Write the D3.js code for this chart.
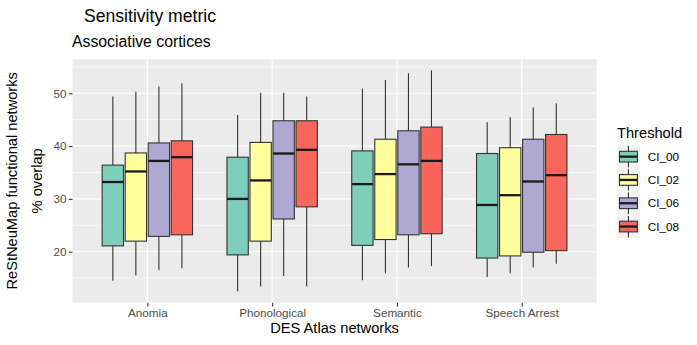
<!DOCTYPE html>
<html><head><meta charset="utf-8">
<script src="https://cdn.jsdelivr.net/npm/d3@7"></script>
<style>body{margin:0;background:#fff}</style>
</head><body>
<svg id="c" width="697" height="345"></svg>
<script>
// ---- data ----
const categories = ["Anomia", "Phonological", "Semantic", "Speech Arrest"];
const series = ["CI_00", "CI_02", "CI_06", "CI_08"];
const colors = ["#7FCDBB", "#FFFF9E", "#AFA8D3", "#F8665C"];
// each entry: [min, q1, median, q3, max] per category
const CI_00 = [[14.5, 21.1, 33.2, 36.4, 49.4], [12.5, 19.4, 30.0, 37.9, 45.9], [14.6, 21.2, 32.8, 39.1, 50.9], [15.2, 18.8, 28.85, 38.6, 44.5]];
const CI_02 = [[15.5, 22.0, 35.2, 38.7, 50.3], [13.4, 22.0, 33.5, 40.7, 50.1], [15.9, 22.3, 34.7, 41.3, 52.5], [15.9, 19.2, 30.7, 39.7, 45.5]];
const CI_06 = [[16.5, 22.9, 37.2, 40.6, 51.3], [15.4, 26.2, 38.6, 44.8, 50.1], [17.0, 23.2, 36.55, 42.9, 53.8], [17.0, 19.9, 33.3, 41.3, 47.3]];
const CI_08 = [[16.85, 23.2, 37.9, 41.0, 51.9], [13.4, 28.5, 39.3, 44.8, 49.4], [17.3, 23.4, 37.2, 43.6, 54.35], [17.7, 20.2, 34.5, 42.2, 48.1]];
const seriesValues = [CI_00, CI_02, CI_06, CI_08];
const yTicks = [20, 30, 40, 50];
const yMinor = [15, 25, 35, 45, 55];

const titleText = "Sensitivity metric";
const subtitleText = "Associative cortices";
const xTitle = "DES Atlas networks";
const yTitle1 = "ReStNeuMap functional networks";
const yTitle2 = "% overlap";
const legendTitle = "Threshold";

// ---- layout ----
const svg = d3.select("#c");
const P = {l: 72.5, r: 596.6, t: 59, b: 302.7};
const font = "'Liberation Sans', Arial, Helvetica, sans-serif";

const x = d3.scalePoint().domain(categories).range([P.l, P.r]).padding(0.6);
const y = d3.scaleLinear().domain([10.34, 56.5]).range([P.b, P.t]);
const slot = x.step() * 0.1845;
const bw = slot * 0.926;

// panel
svg.append("rect").attr("x", P.l).attr("y", P.t).attr("width", P.r - P.l).attr("height", P.b - P.t).attr("fill", "#EBEBEB");
const g = svg.append("g");
g.selectAll(".minor").data(yMinor.filter(v => y(v) > P.t && y(v) < P.b)).join("line")
  .attr("x1", P.l).attr("x2", P.r).attr("y1", d => y(d)).attr("y2", d => y(d))
  .attr("stroke", "#fff").attr("stroke-width", 0.55);
g.selectAll(".major").data(yTicks).join("line")
  .attr("x1", P.l).attr("x2", P.r).attr("y1", d => y(d)).attr("y2", d => y(d))
  .attr("stroke", "#fff").attr("stroke-width", 1.1);
g.selectAll(".vmajor").data(categories).join("line")
  .attr("y1", P.t).attr("y2", P.b).attr("x1", d => x(d)).attr("x2", d => x(d))
  .attr("stroke", "#fff").attr("stroke-width", 1.1);

// boxes
series.forEach((s, si) => {
  const vals = seriesValues[si];
  const grp = svg.append("g");
  categories.forEach((c, ci) => {
    const [mn, q1, md, q3, mx] = vals[ci];
    const cx = x(c) + (si - 1.5) * slot;
    grp.append("line").attr("x1", cx).attr("x2", cx).attr("y1", y(mx)).attr("y2", y(q3))
      .attr("stroke", "#333333").attr("stroke-width", 1.1);
    grp.append("line").attr("x1", cx).attr("x2", cx).attr("y1", y(q1)).attr("y2", y(mn))
      .attr("stroke", "#333333").attr("stroke-width", 1.1);
    grp.append("rect").attr("x", cx - bw / 2).attr("width", bw).attr("y", y(q3)).attr("height", y(q1) - y(q3))
      .attr("fill", colors[si]).attr("stroke", "#333333").attr("stroke-width", 1.1);
    grp.append("line").attr("x1", cx - bw / 2).attr("x2", cx + bw / 2).attr("y1", y(md)).attr("y2", y(md))
      .attr("stroke", "#1A1A1A").attr("stroke-width", 2.3);
  });
});

// axes
const yAxis = d3.axisLeft(y).tickValues(yTicks).tickSize(3.7).tickPadding(2.2).tickFormat(d3.format("d"));
const ya = svg.append("g").attr("transform", `translate(${P.l},0)`).call(yAxis);
const xAxis = d3.axisBottom(x).tickSize(3.7).tickPadding(2.2);
const xa = svg.append("g").attr("transform", `translate(0,${P.b})`).call(xAxis);
[ya, xa].forEach(a => {
  a.select(".domain").remove();
  a.selectAll(".tick line").attr("stroke", "#333333").attr("stroke-width", 1.1);
  a.selectAll(".tick text").attr("fill", "#4D4D4D").style("font-family", font).style("font-size", "11.7px");
});

// titles
svg.append("text").attr("x", 84).attr("y", 21.5).text(titleText)
  .style("font-family", font).style("font-size", "17.6px").attr("fill", "#000");
svg.append("text").attr("x", 72).attr("y", 46.8).text(subtitleText)
  .style("font-family", font).style("font-size", "15.8px").attr("fill", "#000");
svg.append("text").attr("x", (P.l + P.r) / 2).attr("y", 333).attr("text-anchor", "middle").text(xTitle)
  .style("font-family", font).style("font-size", "14.67px").attr("fill", "#000");
const yc = (P.t + P.b) / 2;
svg.append("text").attr("transform", `translate(17.2,${yc}) rotate(-90)`).attr("text-anchor", "middle").text(yTitle1)
  .style("font-family", font).style("font-size", "14.67px").attr("fill", "#000");
svg.append("text").attr("transform", `translate(41.5,${yc}) rotate(-90)`).attr("text-anchor", "middle").text(yTitle2)
  .style("font-family", font).style("font-size", "14.67px").attr("fill", "#000");

// legend
svg.append("text").attr("x", 617).attr("y", 137.5).text(legendTitle)
  .style("font-family", font).style("font-size", "14.67px").attr("fill", "#000");
const keyH = 23.3, keyW = 23.3, lx = 616.8, ly = 145;
series.forEach((s, i) => {
  const ky = ly + i * keyH;
  const kg = svg.append("g");
  kg.append("rect").attr("x", lx).attr("y", ky).attr("width", keyW).attr("height", keyH).attr("fill", "#F2F2F2");
  const kcx = lx + keyW / 2;
  kg.append("line").attr("x1", kcx).attr("x2", kcx).attr("y1", ky + 1).attr("y2", ky + keyH - 1)
    .attr("stroke", "#333333").attr("stroke-width", 1.1);
  kg.append("rect").attr("x", lx + 2.7).attr("y", ky + 6.3).attr("width", keyW - 5.4).attr("height", keyH - 12.6)
    .attr("fill", colors[i]).attr("stroke", "#333333").attr("stroke-width", 1.1);
  kg.append("line").attr("x1", lx + 2.7).attr("x2", lx + keyW - 2.7).attr("y1", ky + keyH / 2).attr("y2", ky + keyH / 2)
    .attr("stroke", "#1A1A1A").attr("stroke-width", 2.3);
  kg.append("text").attr("x", 647.7).attr("y", ky + keyH / 2).attr("dy", "0.36em").text(s)
    .style("font-family", font).style("font-size", "11.7px").attr("fill", "#000");
});
</script>
</body></html>
